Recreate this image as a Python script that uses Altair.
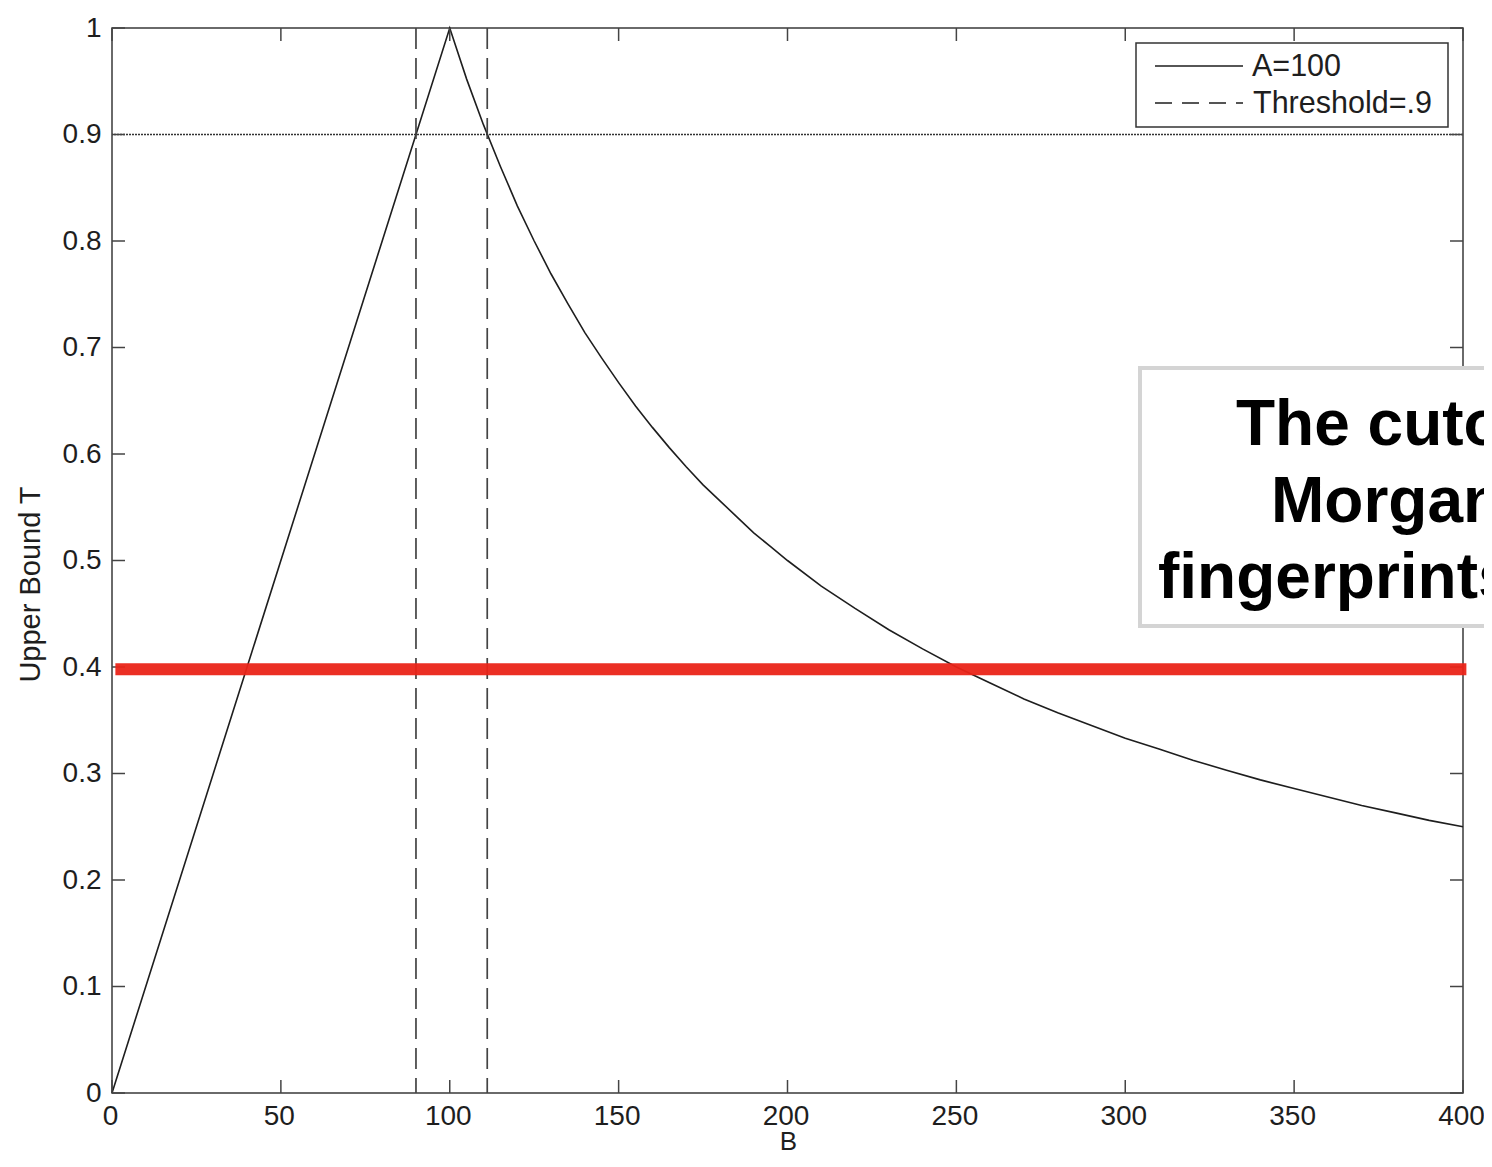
import altair as alt
import pandas as pd

# ---- data ----
curve_b = [0, 100, 105, 110, 115, 120, 125, 130, 135, 140, 145, 150, 155, 160, 165,
           170, 175, 180, 185, 190, 195, 200, 210, 220, 230, 240, 250, 260, 270, 280,
           290, 300, 310, 320, 330, 340, 350, 360, 370, 380, 390, 400]
curve_t = [0, 1.0, 0.952, 0.909, 0.870, 0.833, 0.800, 0.769, 0.741, 0.714, 0.690,
           0.667, 0.645, 0.625, 0.606, 0.588, 0.571, 0.556, 0.541, 0.526, 0.513,
           0.500, 0.476, 0.455, 0.435, 0.417, 0.400, 0.385, 0.370, 0.357, 0.345,
           0.333, 0.323, 0.3125, 0.303, 0.294, 0.286, 0.278, 0.270, 0.263, 0.256,
           0.250]
threshold_b = [90, 111.1]
threshold_t = [0.9]
cutoff_t = [0.398]
cutoff_b = [1, 401]
x_ticks = [0, 50, 100, 150, 200, 250, 300, 350, 400]
y_ticks = [0, 0.1, 0.2, 0.3, 0.4, 0.5, 0.6, 0.7, 0.8, 0.9, 1.0]
legend_labels = ["A=100", "Threshold=.9"]
note_lines = ["The cutoff for", "Morgan", "fingerprints"]

W, H = 1351, 1065
FONT = "Liberation Sans"
INK = "#1e1e1e"

df_curve = pd.DataFrame({"b": curve_b, "t": curve_t})
df_thr_v = pd.DataFrame({"b": threshold_b})
df_thr_h = pd.DataFrame({"t": threshold_t})
df_cut = pd.DataFrame({"b": [cutoff_b[0]], "b2": [cutoff_b[1]], "t": cutoff_t})
df_xt = pd.DataFrame({"b": x_ticks})
df_yt = pd.DataFrame({"t": y_ticks})
one = pd.DataFrame({"k": [0]})

xs = alt.Scale(domain=[0, 400], nice=False, zero=False)
ys = alt.Scale(domain=[0, 1], nice=False, zero=False)

xaxis = alt.Axis(values=x_ticks, ticks=False, domain=False, grid=False, labelFlush=False,
                 labelFontSize=28, labelPadding=9, labelOffset=-2, labelColor=INK,
                 labelFont=FONT,
                 title="B", titleFontSize=26, titleFontWeight="normal",
                 titleColor=INK, titleFont=FONT, titleBaseline="alphabetic",
                 titleY=56, titleX=676)
yaxis = alt.Axis(values=y_ticks, ticks=False, domain=False, grid=False, format="~g",
                 labelFlush=False,
                 labelFontSize=28, labelPadding=11, labelColor=INK, labelFont=FONT,
                 title="Upper Bound T", titleFontSize=29, titleFontWeight="normal",
                 titleColor=INK, titleFont=FONT, titleBaseline="alphabetic",
                 titleAngle=270, titleAlign="center", titleX=-73, titleY=556)


def X(field="b:Q"):
    return alt.X(field, scale=xs, axis=xaxis, title="B")


def Y(field="t:Q"):
    return alt.Y(field, scale=ys, axis=yaxis, title="Upper Bound T")


curve = alt.Chart(df_curve).mark_line(color=INK, strokeWidth=1.6).encode(
    x=X(), y=Y())

thr_v = alt.Chart(df_thr_v).mark_rule(color="#444", strokeWidth=1.7,
                                      strokeDash=[21, 9]).encode(x=X())

thr_h = alt.Chart(df_thr_h).mark_rule(color="#333", strokeWidth=1.6,
                                      strokeDash=[2, 1]).encode(y=Y())

cut = alt.Chart(df_cut).mark_rule(color="#ea2418", strokeWidth=12, clip=False,
                                  opacity=0.95).encode(
    x=X(), x2="b2:Q", y=Y())

tick_kw = dict(color="#444", strokeWidth=1.5)
tb = alt.Chart(df_xt).mark_rule(**tick_kw).encode(
    x=X(), y=alt.value(H), y2=alt.value(H - 13))
tt = alt.Chart(df_xt).mark_rule(**tick_kw).encode(
    x=X(), y=alt.value(0), y2=alt.value(13))
tl = alt.Chart(df_yt).mark_rule(**tick_kw).encode(
    y=Y(), x=alt.value(0), x2=alt.value(13))
tr = alt.Chart(df_yt).mark_rule(**tick_kw).encode(
    y=Y(), x=alt.value(W), x2=alt.value(W - 13))

# legend
leg_box = alt.Chart(one).mark_rect(fill="white", stroke="#333", strokeWidth=1.5).encode(
    x=alt.value(1024), x2=alt.value(1336), y=alt.value(15), y2=alt.value(99))
leg_l1 = alt.Chart(one).mark_rule(color=INK, strokeWidth=1.5).encode(
    x=alt.value(1043), x2=alt.value(1131), y=alt.value(38))
leg_l2 = alt.Chart(one).mark_rule(color=INK, strokeWidth=1.5, strokeDash=[17, 10]).encode(
    x=alt.value(1043), x2=alt.value(1131), y=alt.value(75))
leg_kw = dict(align="left", baseline="middle", fontSize=30.5, font=FONT, color=INK)
leg_t1 = alt.Chart(one).mark_text(**leg_kw).encode(
    x=alt.value(1140), y=alt.value(39), text=alt.value(legend_labels[0]))
leg_t2 = alt.Chart(one).mark_text(**leg_kw).encode(
    x=alt.value(1141), y=alt.value(76), text=alt.value(legend_labels[1]))

# note box (runs off the page edge, as in the reference)
note_box = alt.Chart(one).mark_rect(fill="white", stroke="#d4d4d4", strokeWidth=4).encode(
    x=alt.value(1028), x2=alt.value(1460), y=alt.value(340), y2=alt.value(598))
note_kw = dict(align="left", baseline="alphabetic", fontSize=64, fontWeight="bold",
               font=FONT, color="black")
n1 = alt.Chart(one).mark_text(**note_kw).encode(
    x=alt.value(1124), y=alt.value(417), text=alt.value(note_lines[0]))
n2 = alt.Chart(one).mark_text(**note_kw).encode(
    x=alt.value(1159), y=alt.value(494), text=alt.value(note_lines[1]))
n3 = alt.Chart(one).mark_text(**note_kw).encode(
    x=alt.value(1046), y=alt.value(570), text=alt.value(note_lines[2]))

chart = alt.layer(
    curve, thr_v, thr_h, tb, tt, tl, tr,
    leg_box, leg_l1, leg_l2, leg_t1, leg_t2,
    note_box, n1, n2, n3, cut,
).properties(
    width=W, height=H,
    autosize=alt.AutoSizeParams(type="none"),
    padding={"left": 104, "top": 20, "right": 21, "bottom": 60},
    background="white",
).configure_view(stroke="#3a3a3a", strokeWidth=1.5)

chart.save("out.html", embed_options={"renderer": "svg", "actions": False})
